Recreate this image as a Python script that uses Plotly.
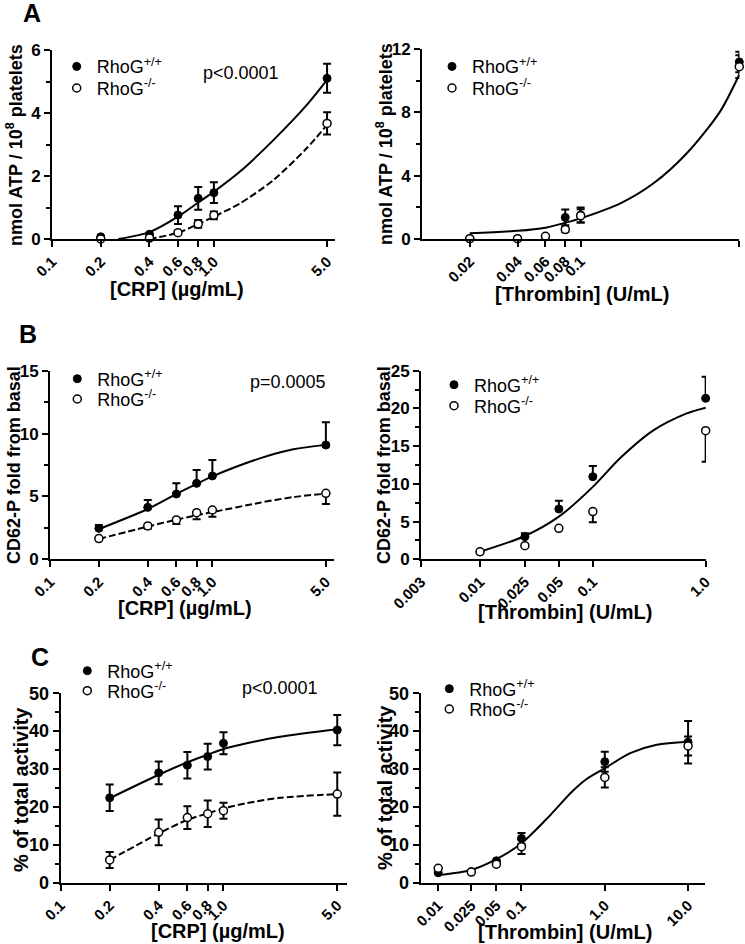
import plotly.graph_objects as go

W, H = 745, 944
FONT = "Liberation Sans, Arial, Helvetica, sans-serif"

# ======================= DATA =======================
# --- Panel A: ATP secretion ---
crp_doses = [0.2, 0.4, 0.6, 0.8, 1.0, 5.0]
crp_tickvals = [0.1, 0.2, 0.4, 0.6, 0.8, 1.0, 5.0]
crp_ticktext = ["0.1", "0.2", "0.4", "0.6", "0.8", "1.0", "5.0"]

a_crp_wt = [0.07, 0.15, 0.76, 1.29, 1.47, 5.10]
a_crp_wt_err = [0, 0, 0.28, 0.36, 0.33, 0.46]
a_crp_ko = [0.0, 0.03, 0.20, 0.48, 0.75, 3.67]
a_crp_ko_err = [0, 0, 0, 0.12, 0.12, 0.35]
a_crp_fit_wt_x = [0.257, 0.4, 0.6, 0.8, 1.0, 1.45, 2.33, 3.74, 5.0]
a_crp_fit_wt_y = [0.0, 0.22, 0.71, 1.16, 1.50, 2.14, 3.14, 4.25, 5.05]
a_crp_fit_ko_x = [0.4, 0.6, 0.8, 1.0, 1.45, 2.33, 3.74, 5.0]
a_crp_fit_ko_y = [0.0, 0.20, 0.47, 0.71, 1.13, 1.87, 2.88, 3.62]

thr_a_doses = [0.02, 0.04, 0.06, 0.08, 0.1, 1.0]
thr_a_tickvals = [0.02, 0.04, 0.06, 0.08, 0.1, 1.0]
thr_a_ticktext = ["0.02", "0.04", "0.06", "0.08", "0.1", "1.0"]
a_thr_wt = [0.0, 0.0, 0.10, 1.35, 1.50, 11.20]
a_thr_wt_err = [0, 0, 0, 0.50, 0.47, 0.65]
a_thr_ko = [0.0, 0.0, 0.15, 0.58, 1.45, 10.90]
a_thr_ko_err = [0, 0, 0, 0.15, 0.42, 0.72]
a_thr_fit_x = [0.02, 0.04, 0.06, 0.08, 0.1, 0.178, 0.288, 0.467, 0.756, 1.0]
a_thr_fit_y = [0.34, 0.50, 0.70, 1.01, 1.29, 2.24, 3.51, 5.41, 8.05, 10.40]

# --- Panel B: CD62-P exposure ---
b_crp_wt = [2.46, 4.13, 5.19, 6.04, 6.63, 9.09]
b_crp_wt_err_up = [0.27, 0.59, 0.85, 1.06, 1.27, 1.81]
b_crp_ko = [1.65, 2.65, 3.13, 3.71, 3.92, 5.25]
b_crp_ko_err_down = [0, 0.22, 0.32, 0.53, 0.53, 0.85]
b_crp_fit_x = [0.2, 0.4, 0.6, 0.8, 1.0, 1.96, 3.15, 5.0]
b_crp_fit_wt_y = [2.40, 4.00, 5.20, 6.00, 6.60, 8.03, 8.75, 9.10]
b_crp_fit_ko_y = [1.62, 2.60, 3.15, 3.50, 3.75, 4.50, 4.95, 5.22]

thr_b_doses = [0.01, 0.025, 0.05, 0.1, 1.0]
thr_b_tickvals = [0.003, 0.01, 0.025, 0.05, 0.1, 1.0]
thr_b_ticktext = ["0.003", "0.01", "0.025", "0.05", "0.1", "1.0"]
b_thr_wt = [1.0, 3.0, 6.67, 10.95, 21.34]
b_thr_wt_err_up = [0, 0.45, 1.10, 1.42, 2.86]
b_thr_ko = [1.0, 1.81, 4.10, 6.32, 17.05]
b_thr_ko_err_down = [0, 0, 0, 1.42, 4.11]
b_thr_fit_x = [0.01, 0.025, 0.05, 0.1, 0.174, 0.344, 0.68, 1.0]
b_thr_fit_y = [1.0, 3.09, 5.65, 9.60, 13.40, 17.10, 19.35, 20.10]

# --- Panel C: % of total activity ---
c_crp_wt = [22.4, 29.0, 31.0, 33.3, 36.8, 40.3]
c_crp_wt_err = [3.5, 3.0, 3.5, 3.4, 2.9, 4.0]
c_crp_ko = [6.0, 13.3, 17.2, 18.2, 19.0, 23.4]
c_crp_ko_err = [2.1, 3.4, 3.0, 3.5, 2.1, 5.7]
c_crp_fit_wt_x = [0.2, 0.4, 0.6, 0.8, 1.0, 1.39, 2.22, 5.0]
c_crp_fit_wt_y = [22.3, 28.5, 31.8, 33.8, 35.3, 36.8, 38.5, 40.5]
c_crp_fit_ko_x = [0.2, 0.4, 0.6, 0.8, 1.0, 1.39, 2.22, 5.0]
c_crp_fit_ko_y = [6.0, 13.0, 16.6, 18.3, 19.6, 21.0, 22.4, 23.4]

thr_c_doses = [0.01, 0.025, 0.05, 0.1, 1.0, 10.0]
thr_c_tickvals = [0.01, 0.025, 0.05, 0.1, 1.0, 10.0]
thr_c_ticktext = ["0.01", "0.025", "0.05", "0.1", "1.0", "10.0"]
c_thr_wt = [2.6, 2.9, 5.8, 11.7, 31.95, 37.1]
c_thr_wt_err = [0, 0, 0, 1.4, 2.65, 5.6]
c_thr_ko = [3.8, 2.8, 4.9, 9.5, 27.8, 36.1]
c_thr_ko_err = [0, 0, 0, 1.9, 2.7, 2.5]
c_thr_fit_x = [0.01, 0.025, 0.05, 0.1, 0.2, 0.403, 0.6, 1.0, 2.02, 4.2, 10.0]
c_thr_fit_y = [2.0, 3.36, 6.2, 10.4, 16.8, 24.0, 27.3, 30.2, 34.2, 36.4, 37.2]

WT_NAME = "RhoG<sup>+/+</sup>"
KO_NAME = "RhoG<sup>-/-</sup>"

# ======================= HELPERS =======================
def px_x(p):
    return p / W

def px_y(p):
    return 1 - p / H

fig = go.Figure()

def ax_suffix(n):
    return "" if n == 1 else str(n)

def add_fit(n, xs, ys, dash):
    s = ax_suffix(n)
    fig.add_trace(go.Scatter(
        x=xs, y=ys, mode="lines",
        line=dict(color="black", width=2, dash=dash, shape="spline", smoothing=0.8),
        xaxis="x" + s, yaxis="y" + s, showlegend=False, hoverinfo="skip"))

def add_points(n, xs, ys, err_up, err_down, filled, legend_id):
    s = ax_suffix(n)
    if filled:
        marker = dict(symbol="circle", size=8, color="black", line=dict(color="black", width=1))
    else:
        marker = dict(symbol="circle", size=8, color="white", line=dict(color="black", width=1.5))
    fig.add_trace(go.Scatter(
        x=xs, y=ys, mode="markers", marker=marker,
        error_y=dict(type="data", symmetric=False, array=err_up, arrayminus=err_down,
                     color="black", thickness=2, width=4),
        name=WT_NAME if filled else KO_NAME,
        xaxis="x" + s, yaxis="y" + s, cliponaxis=False,
        legend=legend_id, showlegend=True))

# ======================= TRACES =======================
# A left
add_fit(1, a_crp_fit_wt_x, a_crp_fit_wt_y, "solid")
add_fit(1, a_crp_fit_ko_x, a_crp_fit_ko_y, "7px,3px")
add_points(1, crp_doses, a_crp_wt, a_crp_wt_err, a_crp_wt_err, True, "legend")
add_points(1, crp_doses, a_crp_ko, a_crp_ko_err, a_crp_ko_err, False, "legend2")
# A right
add_fit(2, a_thr_fit_x, a_thr_fit_y, "solid")
add_points(2, thr_a_doses, a_thr_wt, a_thr_wt_err, a_thr_wt_err, True, "legend3")
add_points(2, thr_a_doses, a_thr_ko, a_thr_ko_err, a_thr_ko_err, False, "legend4")
# B left
add_fit(3, b_crp_fit_x, b_crp_fit_wt_y, "solid")
add_fit(3, b_crp_fit_x, b_crp_fit_ko_y, "7px,3px")
add_points(3, crp_doses, b_crp_wt, b_crp_wt_err_up, [0] * len(crp_doses), True, "legend5")
add_points(3, crp_doses, b_crp_ko, [0] * len(crp_doses), b_crp_ko_err_down, False, "legend6")
# B right
add_fit(4, b_thr_fit_x, b_thr_fit_y, "solid")
add_points(4, thr_b_doses, b_thr_wt, b_thr_wt_err_up, [0] * len(thr_b_doses), True, "legend7")
add_points(4, thr_b_doses, b_thr_ko, [0] * len(thr_b_doses), b_thr_ko_err_down, False, "legend8")
# C left
add_fit(5, c_crp_fit_wt_x, c_crp_fit_wt_y, "solid")
add_fit(5, c_crp_fit_ko_x, c_crp_fit_ko_y, "7px,3px")
add_points(5, crp_doses, c_crp_wt, c_crp_wt_err, c_crp_wt_err, True, "legend9")
add_points(5, crp_doses, c_crp_ko, c_crp_ko_err, c_crp_ko_err, False, "legend10")
# C right
add_fit(6, c_thr_fit_x, c_thr_fit_y, "solid")
add_points(6, thr_c_doses, c_thr_wt, c_thr_wt_err, c_thr_wt_err, True, "legend11")
add_points(6, thr_c_doses, c_thr_ko, c_thr_ko_err, c_thr_ko_err, False, "legend12")

# ======================= AXES =======================
common = dict(showline=True, linecolor="black", linewidth=2, ticks="outside", ticklen=6,
              tickwidth=2, tickcolor="black", showgrid=False, zeroline=False, automargin=False)

def xaxis(n, left_px, right_px, rng, tickvals, ticktext):
    s = ax_suffix(n)
    return {
        "xaxis" + s: dict(common, type="log", range=rng,
                          domain=[px_x(left_px), px_x(right_px)], anchor="y" + s,
                          tickmode="array", tickvals=tickvals, ticktext=ticktext, tickangle=-45,
                          tickfont=dict(family=FONT, size=15, color="black", weight="bold"))
    }

def yaxis(n, top_px, bottom_px, ymax, dtick, minor, fsize=17):
    s = ax_suffix(n)
    return {
        "yaxis" + s: dict(common, range=[0, ymax], domain=[px_y(bottom_px), px_y(top_px)],
                          anchor="x" + s, tickmode="linear", tick0=0, dtick=dtick,
                          minor=dict(dtick=minor, tick0=0, ticks="outside", ticklen=4, tickwidth=2,
                                     tickcolor="black", showgrid=False),
                          tickfont=dict(family=FONT, size=fsize, color="black", weight="bold"))
    }

layout_axes = {}
layout_axes.update(xaxis(1, 52, 335, [-1, 0.748], crp_tickvals, crp_ticktext))
layout_axes.update(yaxis(1, 50, 239, 6, 2, 1))
layout_axes.update(xaxis(2, 422, 739.3, [-2, 0], thr_a_tickvals, thr_a_ticktext))
layout_axes.update(yaxis(2, 49.3, 238.7, 12, 4, 2))
layout_axes.update(xaxis(3, 50, 334, [-1, 0.749], crp_tickvals, crp_ticktext))
layout_axes.update(yaxis(3, 370.7, 559.3, 15, 5, 2.5))
layout_axes.update(xaxis(4, 421, 706, [-2.5229, 0.003], thr_b_tickvals, thr_b_ticktext))
layout_axes.update(yaxis(4, 370.7, 559.3, 25, 5, 2.5))
layout_axes.update(xaxis(5, 60.7, 346.7, [-1, 0.757], crp_tickvals, crp_ticktext))
layout_axes.update(yaxis(5, 693.3, 882.7, 50, 10, 5, 18))
layout_axes.update(xaxis(6, 420.7, 705, [-2.21, 1.203], thr_c_tickvals, thr_c_ticktext))
layout_axes.update(yaxis(6, 693.3, 882.7, 50, 10, 5, 18))

# ======================= LEGENDS =======================
legend_marker_px = {
    "legend": (76.7, 66.7), "legend2": (76.7, 88.3),
    "legend3": (452, 66.7), "legend4": (452, 88.3),
    "legend5": (77.3, 379), "legend6": (77.3, 399.3),
    "legend7": (454, 385), "legend8": (454, 406),
    "legend9": (87.3, 671), "legend10": (87.3, 691),
    "legend11": (449.3, 689), "legend12": (449.3, 709.3),
}
legends = {}
for key, (mx, my) in legend_marker_px.items():
    legends[key] = dict(x=px_x(mx - 20), y=px_y(my), xanchor="left", yanchor="middle",
                        bgcolor="rgba(0,0,0,0)", borderwidth=0,
                        font=dict(family=FONT, size=18, color="black"))

# ======================= ANNOTATIONS =======================
ann = []

def add_text(text, x, y, size, bold=False, angle=0):
    ann.append(dict(text=text, x=px_x(x), y=px_y(y), xref="paper", yref="paper",
                    xanchor="center", yanchor="middle", showarrow=False, textangle=angle,
                    font=dict(family=FONT, size=size, color="black",
                              weight="bold" if bold else "normal")))

# panel letters
add_text("A", 32, 13, 25, True)
add_text("B", 28, 334, 25, True)
add_text("C", 40, 657, 25, True)
# p values
add_text("p<0.0001", 241, 73, 18)
add_text("p=0.0005", 288, 382, 18)
add_text("p<0.0001", 280, 688, 18)
# x-axis titles
add_text("[CRP] (\u00b5g/mL)", 177, 289, 20, True)
add_text("[Thrombin] (U/mL)", 582, 294, 20, True)
add_text("[CRP] (\u00b5g/mL)", 185, 608, 20, True)
add_text("[Thrombin] (U/mL)", 565, 612, 20, True)
add_text("[CRP] (\u00b5g/mL)", 218, 931, 20, True)
add_text("[Thrombin] (U/mL)", 565, 932, 20, True)
# y-axis titles
add_text("nmol ATP / 10<sup>8</sup> platelets", 15, 145, 18, True, -90)
add_text("nmol ATP / 10<sup>8</sup> platelets", 384, 144, 18, True, -90)
add_text("CD62-P fold from basal", 14, 465, 18, True, -90)
add_text("CD62-P fold from basal", 384, 465, 18, True, -90)
add_text("% of total activity", 21, 790, 20, True, -90)
add_text("% of total activity", 385, 788, 20, True, -90)

fig.update_layout(
    template="none",
    width=W, height=H, margin=dict(l=0, r=0, t=0, b=0, autoexpand=False),
    paper_bgcolor="white", plot_bgcolor="white",
    font=dict(family=FONT, color="black"),
    annotations=ann,
    **layout_axes,
    **legends,
)

fig.write_html("out.html", config={"displayModeBar": False},
               post_script="document.body.style.margin='0';document.body.style.padding='0';")
